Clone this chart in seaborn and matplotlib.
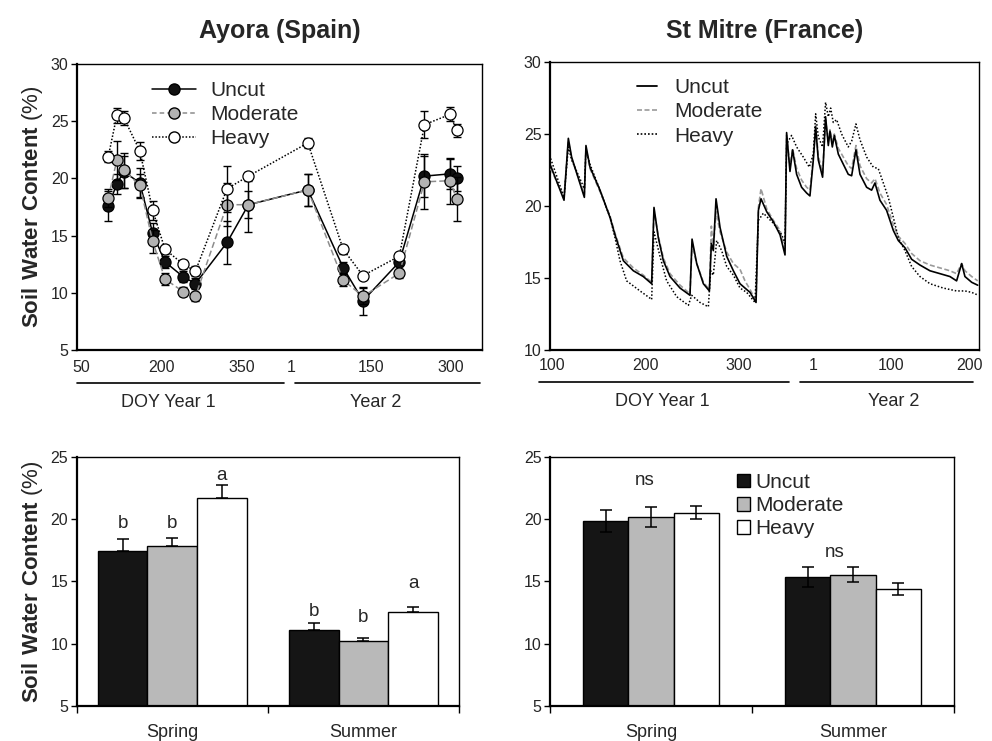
import matplotlib
matplotlib.use("Agg")
import matplotlib.pyplot as plt
import seaborn as sns
import pandas as pd
from matplotlib.lines import Line2D
from matplotlib.patches import Patch

sns.set_theme(style="ticks")
plt.rcParams['font.family'] = ['Liberation Sans', 'DejaVu Sans']
plt.rcParams['mathtext.fontset'] = 'custom'
plt.rcParams['mathtext.bf'] = 'Liberation Sans:bold'
plt.rcParams['mathtext.rm'] = 'Liberation Sans'

# ---------------- Ayora (Spain) time series ----------------
ayora_doy_year1 = [101, 117, 130, 160, 184, 207, 241, 264, 323, 363]
ayora_doy_year2 = [32, 98, 135, 203, 250, 298, 310]
ayora_uncut = [17.6, 19.5, 20.6, 19.6, 15.2, 12.7, 11.4, 10.8, 14.4, 17.7, 19.0, 12.2, 9.3, 12.7, 20.2, 20.4, 20.0]
ayora_moderate = [18.3, 21.6, 20.7, 19.4, 14.5, 11.2, 10.1, 9.7, 17.7, 17.7, 19.0, 11.1, 9.7, 11.7, 19.7, 19.8, 18.2]
ayora_heavy = [21.9, 25.5, 25.3, 22.4, 17.2, 13.8, 12.5, 11.9, 19.1, 20.2, 23.1, 13.8, 11.5, 13.2, 24.7, 25.6, 24.2]
ayora_uncut_err = [1.3, 0.9, 1.4, 1.3, 0.9, 0.5, 0.5, 0.5, 1.9, 2.4, 1.4, 0.5, 1.2, 0.4, 1.8, 1.3, 1.1]
ayora_moderate_err = [0.8, 1.7, 1.5, 1.0, 1.0, 0.5, 0.4, 0.4, 1.9, 1.2, 1.4, 0.5, 0.7, 0.4, 2.4, 2.0, 1.9]
ayora_heavy_err = [0.5, 0.65, 0.6, 0.8, 0.8, 0.4, 0.4, 0.4, 2.0, 0.4, 0.4, 0.4, 0.3, 0.3, 1.2, 0.6, 0.6]
ayora_tick_labels = ["50", "200", "350", "1", "150", "300"]
ayora_tick_doy = [50, 200, 350, 1, 150, 300]
AYORA_YEAR2_OFFSET = 442

# ---------------- St Mitre (France) daily series ----------------
# x = day position along the axis (year-1 DOY scale)
stm_day = [98.9, 113.2, 117.8, 121.3, 134.9, 136.6, 140.9, 151.6, 162.3, 167.6, 176.5, 187.2, 197.8, 206.7,
           209.2, 213.8, 219.2, 226.3, 237.0, 247.6, 249.8, 254.8, 261.9, 268.3, 270.4, 272.5, 275.4, 279.7,
           286.8, 293.9, 301.0, 306.3, 311.7, 318.1, 320.6, 323.4, 329.5, 336.6, 343.7, 349.0, 350.7, 354.3,
           357.1, 361.4, 366.7, 372.1, 375.6, 379.2, 381.7, 384.5, 389.1, 392.3, 395.2, 397.0, 399.5, 401.6,
           405.9, 411.2, 416.5, 420.1, 424.7, 429.0, 436.1, 441.4, 445.0, 450.3, 457.4, 464.6, 469.9, 477.0,
           484.1, 493.0, 503.7, 514.4, 525.0, 532.1, 537.5, 541.0, 548.2, 554.6]
stm_uncut = [22.8, 20.4, 24.7, 23.4, 20.6, 24.2, 22.7, 21.1, 19.2, 18.0, 16.2, 15.5, 15.1, 14.6,
             19.9, 17.8, 16.2, 15.1, 14.3, 13.8, 17.7, 16.0, 14.6, 14.1, 17.4, 16.9, 20.5, 18.5,
             16.5, 15.5, 14.6, 14.3, 14.0, 13.3, 19.7, 20.5, 19.6, 18.9, 18.0, 16.6, 25.1, 22.4,
             23.9, 22.2, 21.3, 20.9, 20.7, 23.2, 25.5, 23.2, 22.0, 26.2, 24.2, 25.2, 24.1, 24.9,
             23.6, 22.9, 22.2, 22.1, 23.9, 22.2, 21.3, 21.1, 21.6, 20.4, 19.7, 18.3, 17.6, 17.1,
             16.3, 15.9, 15.5, 15.3, 15.1, 14.8, 16.0, 15.1, 14.7, 14.5]
stm_moderate = [22.6, 20.6, 24.5, 23.3, 20.8, 24.0, 22.6, 21.0, 19.3, 18.1, 16.4, 15.7, 15.2, 14.7,
                19.7, 17.9, 16.4, 15.3, 14.5, 13.9, 17.3, 16.0, 14.7, 14.2, 18.6, 17.0, 19.6, 18.2,
                16.8, 16.0, 15.6, 14.8, 14.2, 13.4, 19.9, 21.2, 19.8, 19.0, 18.3, 16.9, 24.9, 22.7,
                24.0, 22.6, 21.8, 21.3, 21.1, 23.4, 25.6, 23.5, 22.3, 26.0, 24.5, 25.3, 24.5, 25.0,
                24.0, 23.4, 22.8, 22.6, 24.2, 22.8, 21.9, 21.6, 21.9, 20.9, 20.1, 18.7, 17.9, 17.4,
                16.7, 16.2, 15.9, 15.7, 15.5, 15.3, 16.0, 15.5, 15.1, 14.8]
stm_heavy_day = [98.9, 113.2, 117.8, 121.3, 134.9, 136.6, 140.9, 151.6, 162.3, 167.6, 172.9, 180.0, 194.3,
                 204.9, 206.7, 209.2, 215.6, 222.7, 233.4, 245.9, 249.4, 258.3, 267.2, 269.7, 272.5, 276.1,
                 281.4, 286.8, 293.9, 301.0, 308.1, 317.0, 320.6, 325.9, 336.6, 345.5, 349.0, 350.7, 356.0,
                 361.4, 368.5, 374.9, 379.2, 381.7, 384.5, 389.1, 392.3, 395.2, 397.7, 400.5, 404.1, 409.4,
                 416.5, 420.1, 424.7, 429.0, 436.1, 443.2, 448.5, 453.9, 459.2, 464.6, 469.9, 477.0, 484.1,
                 493.0, 503.7, 517.9, 532.1, 541.0, 548.2, 555.3]
stm_heavy = [23.3, 20.6, 24.1, 23.2, 21.2, 23.9, 22.9, 21.1, 19.2, 17.8, 16.2, 14.8, 14.1,
             13.6, 13.5, 18.2, 16.5, 14.8, 13.7, 13.1, 13.8, 13.3, 13.0, 15.5, 15.2, 17.6,
             16.9, 15.8, 15.2, 14.3, 14.0, 13.3, 19.0, 19.5, 18.8, 18.0, 17.4, 24.3, 24.9,
             24.1, 23.4, 22.7, 23.6, 26.4, 24.8, 24.1, 27.2, 26.2, 26.8, 25.8, 26.0, 25.0,
             24.1, 24.5, 25.7, 24.6, 23.4, 22.7, 22.6, 21.6, 20.6, 19.2, 17.8, 16.9, 15.8,
             15.1, 14.6, 14.3, 14.1, 14.1, 14.0, 13.8]
stm_tick_labels = ["100", "200", "300", "1", "100", "200"]
stm_tick_pos = [100, 200, 300, 379, 462, 546]

# ---------------- Seasonal bars ----------------
seasons = ["Spring", "Summer"]
treatments = ["Uncut", "Moderate", "Heavy"]
ayora_bar_uncut = [17.45, 11.07]
ayora_bar_moderate = [17.86, 10.23]
ayora_bar_heavy = [21.7, 12.55]
ayora_bar_uncut_err = [0.95, 0.56]
ayora_bar_moderate_err = [0.6, 0.25]
ayora_bar_heavy_err = [1.05, 0.37]
ayora_letters = [["b", "b", "a"], ["b", "b", "a"]]
ayora_letter_y = [[19.3, 19.3, 23.2], [12.25, 11.7, 14.45]]
stm_bar_uncut = [19.87, 15.36]
stm_bar_moderate = [20.19, 15.55]
stm_bar_heavy = [20.54, 14.4]
stm_bar_uncut_err = [0.9, 0.78]
stm_bar_moderate_err = [0.83, 0.6]
stm_bar_heavy_err = [0.5, 0.5]
stm_letters = ["ns", "ns"]
stm_letter_y = [22.77, 17.0]

TREAT_FILL = {"Uncut": "#151515", "Moderate": "#b9b9b9", "Heavy": "#ffffff"}
MARK_FILL = {"Uncut": "#111111", "Moderate": "#b3b3b3", "Heavy": "#ffffff"}

fig = plt.figure(figsize=(9.92, 7.41), dpi=100)
ax1 = fig.add_axes([0.0776, 0.5277, 0.4083, 0.3859])
ax2 = fig.add_axes([0.5544, 0.5277, 0.4325, 0.3886])
ax3 = fig.add_axes([0.0773, 0.0477, 0.3854, 0.3352])
ax4 = fig.add_axes([0.5544, 0.0477, 0.4073, 0.3352])

TICK_FS = 11.5


def style_box(ax):
    for side in ["left", "bottom"]:
        ax.spines[side].set_linewidth(1.6)
        ax.spines[side].set_color("black")
    for side in ["top", "right"]:
        ax.spines[side].set_visible(True)
        ax.spines[side].set_linewidth(1.0)
        ax.spines[side].set_color("black")
    ax.tick_params(axis="y", direction="out", length=4, width=1, labelsize=TICK_FS, color="black", pad=2)


ylabel = r"$\mathbf{Soil\ Water\ Content}$ (%)"

# ---------- Panel 1: Ayora time series ----------
ayora_x = ayora_doy_year1 + [d + AYORA_YEAR2_OFFSET for d in ayora_doy_year2]
series = [
    ("Uncut", ayora_uncut, ayora_uncut_err, "-", "black"),
    ("Moderate", ayora_moderate, ayora_moderate_err, (0, (4, 2)), "#8c8c8c"),
    ("Heavy", ayora_heavy, ayora_heavy_err, (0, (1, 1.2)), "black"),
]
for i, (name, vals, errs, ls, lc) in enumerate(series):
    ax1.errorbar(ayora_x, vals, yerr=errs, fmt="none", ecolor="black", elinewidth=1.0,
                 capsize=3.2, capthick=1.0, zorder=2 + 2 * i)
    sns.lineplot(x=ayora_x, y=vals, ax=ax1, color=lc, linestyle=ls, linewidth=1.1,
                 marker="o", markersize=8, markerfacecolor=MARK_FILL[name],
                 markeredgecolor="black", markeredgewidth=0.9, zorder=3 + 2 * i,
                 sort=False, estimator=None)
ax1.set_xlim(42.5, 799.5)
ax1.set_ylim(5, 30)
ax1.set_yticks([5, 10, 15, 20, 25, 30])
tick_x = [d for d in ayora_tick_doy[:3]] + [d + AYORA_YEAR2_OFFSET for d in ayora_tick_doy[3:]]
ax1.set_xticks(tick_x)
ax1.set_xticklabels(ayora_tick_labels)
style_box(ax1)
ax1.tick_params(axis="x", length=0, labelsize=TICK_FS, pad=7)
ax1.set_xlabel("")
ax1.set_ylabel(ylabel, fontsize=16, labelpad=4)
ax1.set_title("Ayora (Spain)", fontsize=18, fontweight="bold", pad=19)

handles1 = [
    Line2D([0], [0], color="black", ls="-", lw=1.1, marker="o", markersize=8,
           markerfacecolor=MARK_FILL["Uncut"], markeredgecolor="black"),
    Line2D([0], [0], color="#8c8c8c", ls=(0, (3, 2)), lw=1.1, marker="o", markersize=8,
           markerfacecolor=MARK_FILL["Moderate"], markeredgecolor="black"),
    Line2D([0], [0], color="black", ls=(0, (1, 1.2)), lw=1.1, marker="o", markersize=8,
           markerfacecolor=MARK_FILL["Heavy"], markeredgecolor="black"),
]
ax1.legend(handles1, treatments, loc="upper left", bbox_to_anchor=(0.185, 0.94), frameon=False,
           fontsize=15, handlelength=2.1, handletextpad=0.7, labelspacing=0.24, borderpad=0,
           borderaxespad=0)

# annotation lines below the axis
for (x0, x1) in [(0.0, 0.511), (0.538, 0.995)]:
    ax1.plot([x0, x1], [-0.114, -0.114], transform=ax1.transAxes, color="black", lw=1.2, clip_on=False)
ax1.text(0.225, -0.185, "DOY Year 1", transform=ax1.transAxes, ha="center", va="center", fontsize=13)
ax1.text(0.7375, -0.185, "Year 2", transform=ax1.transAxes, ha="center", va="center", fontsize=13)

# ---------- Panel 2: St Mitre time series ----------
sns.lineplot(x=stm_day, y=stm_moderate, ax=ax2, color="#9a9a9a", linestyle=(0, (3, 1.5)),
             linewidth=1.2, sort=False, estimator=None, zorder=3)
sns.lineplot(x=stm_day, y=stm_uncut, ax=ax2, color="black", linestyle="-",
             linewidth=1.2, sort=False, estimator=None, zorder=4)
sns.lineplot(x=stm_heavy_day, y=stm_heavy, ax=ax2, color="black", linestyle=(0, (1, 1.3)),
             linewidth=1.1, sort=False, estimator=None, zorder=5)
ax2.set_xlim(98.2, 556)
ax2.set_ylim(10, 30)
ax2.set_yticks([10, 15, 20, 25, 30])
ax2.set_xticks(stm_tick_pos)
ax2.set_xticklabels(stm_tick_labels)
style_box(ax2)
ax2.tick_params(axis="x", length=0, labelsize=TICK_FS, pad=6)
ax2.set_xlabel("")
ax2.set_ylabel("")
ax2.set_title("St Mitre (France)", fontsize=18, fontweight="bold", pad=17)
handles2 = [
    Line2D([0], [0], color="black", ls="-", lw=1.3),
    Line2D([0], [0], color="#9a9a9a", ls=(0, (3, 1.5)), lw=1.2),
    Line2D([0], [0], color="black", ls=(0, (1, 1.2)), lw=1.2),
]
ax2.legend(handles2, treatments, loc="upper left", bbox_to_anchor=(0.202, 0.945), frameon=False,
           fontsize=15, handlelength=1.0, handletextpad=0.8, labelspacing=0.26, borderpad=0,
           borderaxespad=0)
for (x0, x1) in [(-0.026, 0.557), (0.583, 0.986)]:
    ax2.plot([x0, x1], [-0.112, -0.112], transform=ax2.transAxes, color="black", lw=1.2, clip_on=False)
ax2.text(0.263, -0.178, "DOY Year 1", transform=ax2.transAxes, ha="center", va="center", fontsize=13)
ax2.text(0.80, -0.178, "Year 2", transform=ax2.transAxes, ha="center", va="center", fontsize=13)


# ---------- Bar panels ----------
def bar_panel(ax, means, errs, width, full_err):
    rows = []
    for t, vals in zip(treatments, means):
        for s, v in zip(seasons, vals):
            rows.append({"season": s, "treatment": t, "value": v})
    df = pd.DataFrame(rows)
    sns.barplot(data=df, x="season", y="value", hue="treatment", order=seasons,
                hue_order=treatments, palette=TREAT_FILL, saturation=1, edgecolor="black",
                linewidth=1.0, width=width, errorbar=None, ax=ax, legend=False, zorder=2)
    for cont, e in zip(ax.containers, errs):
        xs = [b.get_x() + b.get_width() / 2 for b in cont]
        ys = [b.get_height() for b in cont]
        if full_err:
            yerr = e
        else:
            yerr = [[0] * len(e), e]
        ax.errorbar(xs, ys, yerr=yerr, fmt="none", ecolor="black", elinewidth=1.1,
                    capsize=4, capthick=1.1, zorder=5)
    ax.set_xlim(-0.5, 1.5)
    ax.set_ylim(5, 25)
    ax.set_yticks([5, 10, 15, 20, 25])
    style_box(ax)
    ax.set_xticks([0, 1])
    ax.set_xticklabels(seasons)
    ax.tick_params(axis="x", which="major", length=0, labelsize=13, pad=13)
    ax.set_xticks([-0.5, 0.5, 1.5], minor=True)
    ax.tick_params(axis="x", which="minor", length=5, width=1, color="black", direction="out")
    ax.set_xlabel("")


bar_panel(ax3, [ayora_bar_uncut, ayora_bar_moderate, ayora_bar_heavy],
          [ayora_bar_uncut_err, ayora_bar_moderate_err, ayora_bar_heavy_err], 0.78, False)
ax3.set_ylabel(ylabel, fontsize=16, labelpad=4)
for ci, cont in enumerate(ax3.containers[:3]):
    for si, b in enumerate(cont):
        ax3.text(b.get_x() + b.get_width() / 2, ayora_letter_y[si][ci], ayora_letters[si][ci],
                 ha="center", va="baseline", fontsize=13.5)

bar_panel(ax4, [stm_bar_uncut, stm_bar_moderate, stm_bar_heavy],
          [stm_bar_uncut_err, stm_bar_moderate_err, stm_bar_heavy_err], 0.67, True)
ax4.set_ylabel("")
ns_x = [-0.03, 0.91]
for x, y, s in zip(ns_x, stm_letter_y, stm_letters):
    ax4.text(x, y, s, ha="center", va="baseline", fontsize=13.5)
handles4 = [Patch(facecolor=TREAT_FILL[t], edgecolor="black", linewidth=1.0) for t in treatments]
ax4.legend(handles4, treatments, loc="upper left", bbox_to_anchor=(0.4636, 0.937), frameon=False,
           fontsize=15, handlelength=0.62, handleheight=0.62, handletextpad=0.25,
           labelspacing=0.2, borderpad=0, borderaxespad=0)

fig.savefig("out.png", dpi=100)
